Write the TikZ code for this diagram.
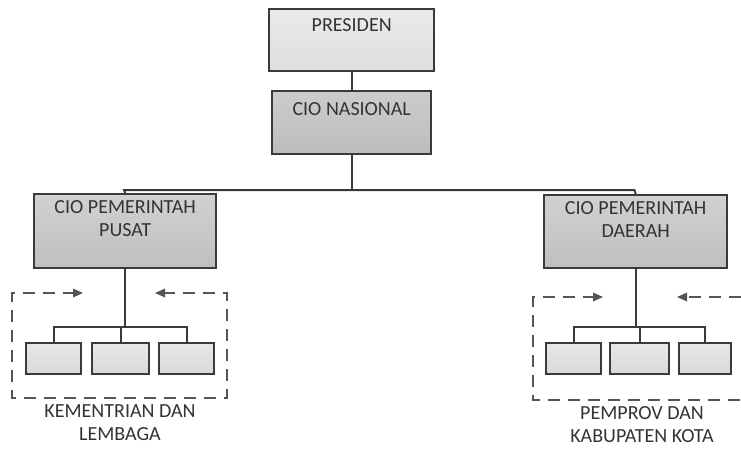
\documentclass[tikz,border=0pt]{standalone}
\usepackage{fontspec}
\setmainfont{Carlito}
\usetikzlibrary{arrows.meta}
\definecolor{edge}{HTML}{3A3A3A}
\definecolor{txt}{HTML}{333333}
\definecolor{dsh}{HTML}{555555}
\tikzset{
  box/.style={draw=edge, line width=2.4pt, anchor=north west, inner sep=0pt},
  lightbox/.style={box, top color=gray!16, bottom color=gray!26},
  midbox/.style={box, top color=gray!40, bottom color=gray!52},
  darkbox/.style={box, top color=gray!36, bottom color=gray!50},
  childbox/.style={box, line width=2pt, top color=gray!18, bottom color=gray!30, minimum height=31pt},
  lbl/.style={anchor=north, text=txt, font=\fontsize{20}{23}\selectfont, align=center, inner sep=0pt},
  conn/.style={draw=edge, line width=2pt},
  dashline/.style={draw=dsh, line width=2pt, dash pattern=on 12pt off 8pt},
  tiphead/.style={fill=dsh},
}
\begin{document}
\begin{tikzpicture}[x=1pt,y=-1pt]
\useasboundingbox (0,0) rectangle (741,448);
% top boxes
\node[lightbox, minimum width=165pt, minimum height=62pt] (pres) at (268,8) {};
\node[lbl] (presT) at ([yshift=-10pt]pres.north) {PRESIDEN};
\node[midbox, minimum width=159pt, minimum height=63pt] (nas) at (271,90) {};
\node[lbl] (nasT) at ([yshift=-12pt]nas.north) {CIO NASIONAL};
% second level
\node[darkbox, minimum width=182pt, minimum height=74pt] (pusat) at (33,193) {};
\node[lbl] (pusatT) at ([yshift=-7pt]pusat.north) {CIO PEMERINTAH\\PUSAT};
\node[darkbox, minimum width=183pt, minimum height=73pt] (daerah) at (543,194) {};
\node[lbl] (daerahT) at ([yshift=-7pt]daerah.north) {CIO PEMERINTAH\\DAERAH};
% children left
\node[childbox, minimum width=55pt] (l1) at (25,342) {};
\node[childbox, minimum width=57pt] (l2) at (91,342) {};
\node[childbox, minimum width=55pt] (l3) at (158,342) {};
% children right
\node[childbox, minimum width=55pt] (r1) at (545,342) {};
\node[childbox, minimum width=59pt] (r2) at (609,342) {};
\node[childbox, minimum width=52pt] (r3) at (678,342) {};
% connectors top
\coordinate (barL) at (124,190);
\coordinate (barR) at (634.5,190);
\draw[conn] (pres.south) -- (nas.north);
\draw[conn] (nas.south) -- (nas.south |- barL);
\draw[conn] (pusat.north) -- (barL) -- (barR) -- (daerah.north);
% connectors left children
\coordinate (cbL) at (0,327);
\draw[conn] (pusat.south) -- (pusat.south |- cbL);
\draw[conn] (l1.north) -- (l1.north |- cbL) -- (l3.north |- cbL) -- (l3.north);
\draw[conn] (l2.north) -- (l2.north |- cbL);
% connectors right children
\draw[conn] (daerah.south) -- (daerah.south |- cbL);
\draw[conn] (r1.north) -- (r1.north |- cbL) -- (r3.north |- cbL) -- (r3.north);
\draw[conn] (r2.north) -- (r2.north |- cbL);
% dashed frame left
\coordinate (dL1) at (12,293);
\coordinate (dL2) at (83,293);
\coordinate (dL3) at (155,293);
\coordinate (dL4) at (227,293);
\coordinate (dL5) at (12,398);
\coordinate (dL6) at (227,398);
\draw[dashline] (75,293) -- (dL1) -- (dL5) -- (dL6) -- (dL4) -- (163,293);
\fill[tiphead] (dL2) -- ++(-10,-4.5) -- ++(0,9) -- cycle;
\fill[tiphead] (dL3) -- ++(10,-4.5) -- ++(0,9) -- cycle;
% dashed frame right
\coordinate (dR1) at (533,297);
\coordinate (dR2) at (603,297);
\coordinate (dR3) at (677,297);
\coordinate (dR4) at (741,297);
\coordinate (dR5) at (533,400);
\coordinate (dR6) at (741,400);
\draw[dashline] (595,297) -- (dR1) -- (dR5) -- (dR6);
\draw[dashline] (dR4) -- (685,297);
\fill[tiphead] (dR2) -- ++(-10,-4.5) -- ++(0,9) -- cycle;
\fill[tiphead] (dR3) -- ++(10,-4.5) -- ++(0,9) -- cycle;
% captions
\node[lbl] (capL) at (120,404) {KEMENTRIAN DAN\\LEMBAGA};
\node[lbl] (capR) at (642,406) {PEMPROV DAN\\KABUPATEN KOTA};
\end{tikzpicture}
\end{document}
